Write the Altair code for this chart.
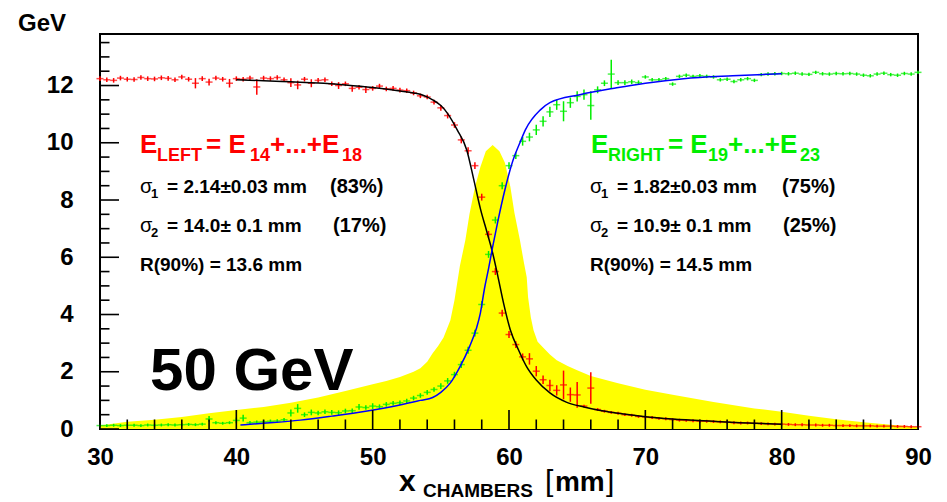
import altair as alt
import pandas as pd

# ---------------- data ----------------
x_pts = [30.0, 30.5, 31.0, 31.5, 32.0, 32.5, 33.0, 33.5, 34.0, 34.5,
         35.0, 35.5, 36.0, 36.5, 37.0, 37.5, 38.0, 38.5, 39.0, 39.5,
         40.0, 40.5, 41.0, 41.5, 42.0, 42.5, 43.0, 43.5, 44.0, 44.5,
         45.0, 45.5, 46.0, 46.5, 47.0, 47.5, 48.0, 48.5, 49.0, 49.5,
         50.0, 50.5, 51.0, 51.5, 52.0, 52.5, 53.0, 53.5, 54.0, 54.5,
         55.0, 55.5, 56.0, 56.5, 57.0, 57.5, 58.0, 58.5, 59.0, 59.5,
         60.0, 60.5, 61.0, 61.5, 62.0, 62.5, 63.0, 63.5, 64.0, 64.5,
         65.0, 65.5, 66.0, 66.5, 67.0, 67.5, 68.0, 68.5, 69.0, 69.5,
         70.0, 70.5, 71.0, 71.5, 72.0, 72.5, 73.0, 73.5, 74.0, 74.5,
         75.0, 75.5, 76.0, 76.5, 77.0, 77.5, 78.0, 78.5, 79.0, 79.5,
         80.0, 80.5, 81.0, 81.5, 82.0, 82.5, 83.0, 83.5, 84.0, 84.5,
         85.0, 85.5, 86.0, 86.5, 87.0, 87.5, 88.0, 88.5, 89.0, 89.5,
         90.0]

e_left = [12.24, 12.20, 12.18, 12.26, 12.22, 12.21, 12.28, 12.24, 12.23, 12.27,
          12.25, 12.20, 12.30, 12.22, 12.08, 12.24, 12.12, 12.26, 12.22, 12.08,
          12.24, 12.22, 12.26, 11.95, 12.26, 12.24, 12.28, 12.20, 12.10, 12.02,
          12.22, 12.08, 12.18, 12.20, 12.06, 12.00, 12.06, 11.90, 11.94, 11.86,
          11.90, 11.98, 11.88, 11.90, 11.84, 11.82, 11.74, 11.64, 11.60, 11.42,
          11.22, 10.95, 10.62, 10.10, 9.72, 9.20, 8.10, 6.80, 5.50, 4.05,
          3.30, 2.95, 2.52, 2.45, 2.02, 1.72, 1.52, 1.35, 1.54, 1.20,
          1.19, 0.80, 1.43, 0.68, 0.62, 0.58, 0.55, 0.50, 0.48, 0.44,
          0.42, 0.40, 0.37, 0.36, 0.33, 0.31, 0.30, 0.29, 0.27, 0.27,
          0.26, 0.25, 0.24, 0.22, 0.21, 0.21, 0.20, 0.19, 0.18, 0.17,
          0.17, 0.16, 0.15, 0.15, 0.14, 0.14, 0.13, 0.13, 0.12, 0.12,
          0.12, 0.11, 0.11, 0.11, 0.10, 0.10, 0.10, 0.09, 0.09, 0.08,
          0.08]

e_left_err = [0.08, 0.08, 0.08, 0.08, 0.08, 0.08, 0.08, 0.08, 0.08, 0.08,
              0.08, 0.08, 0.08, 0.08, 0.18, 0.08, 0.12, 0.08, 0.08, 0.15,
              0.08, 0.08, 0.08, 0.27, 0.08, 0.08, 0.08, 0.08, 0.15, 0.15,
              0.08, 0.14, 0.08, 0.08, 0.08, 0.12, 0.08, 0.12, 0.08, 0.12,
              0.08, 0.08, 0.08, 0.08, 0.08, 0.08, 0.08, 0.08, 0.08, 0.08,
              0.10, 0.10, 0.10, 0.12, 0.12, 0.12, 0.12, 0.12, 0.12, 0.12,
              0.12, 0.12, 0.12, 0.20, 0.18, 0.15, 0.20, 0.18, 0.50, 0.25,
              0.45, 0.05, 0.55, 0.05, 0.05, 0.05, 0.05, 0.05, 0.05, 0.05,
              0.05, 0.05, 0.05, 0.05, 0.05, 0.05, 0.05, 0.05, 0.05, 0.05,
              0.05, 0.05, 0.05, 0.05, 0.05, 0.05, 0.05, 0.05, 0.05, 0.05,
              0.05, 0.05, 0.05, 0.05, 0.05, 0.05, 0.05, 0.05, 0.05, 0.05,
              0.05, 0.05, 0.05, 0.05, 0.05, 0.05, 0.05, 0.05, 0.05, 0.05,
              0.05]

e_right = [0.12, 0.12, 0.13, 0.12, 0.13, 0.13, 0.12, 0.14, 0.13, 0.14,
           0.15, 0.14, 0.15, 0.16, 0.15, 0.17, 0.35, 0.22, 0.20, 0.22,
           0.30, 0.38, 0.22, 0.24, 0.25, 0.27, 0.28, 0.32, 0.56, 0.72,
           0.50, 0.58, 0.56, 0.60, 0.58, 0.57, 0.63, 0.64, 0.77, 0.75,
           0.80, 0.78, 0.86, 0.90, 0.92, 0.98, 1.08, 1.17, 1.28, 1.38,
           1.50, 1.68, 1.90, 2.25, 2.75, 3.35, 4.35, 6.10, 7.30, 8.50,
           9.20, 9.55, 10.05, 10.20, 10.45, 10.75, 11.08, 11.33, 11.10, 11.40,
           11.62, 11.68, 11.30, 11.85, 12.08, 12.40, 12.10, 12.10, 12.13, 12.10,
           12.30, 12.20, 12.20, 12.24, 12.05, 12.32, 12.36, 12.32, 12.34, 12.32,
           12.30, 12.20, 12.22, 12.14, 12.20, 12.24, 12.18, 12.38, 12.40, 12.41,
           12.42, 12.41, 12.43, 12.40, 12.39, 12.46, 12.41, 12.40, 12.42, 12.41,
           12.42, 12.40, 12.36, 12.34, 12.40, 12.43, 12.38, 12.36, 12.42, 12.40,
           12.46]

e_right_err = [0.05, 0.05, 0.05, 0.05, 0.05, 0.05, 0.05, 0.05, 0.05, 0.05,
               0.05, 0.05, 0.05, 0.05, 0.05, 0.05, 0.10, 0.05, 0.05, 0.05,
               0.10, 0.12, 0.06, 0.06, 0.06, 0.06, 0.06, 0.06, 0.12, 0.15,
               0.08, 0.10, 0.08, 0.08, 0.08, 0.08, 0.08, 0.08, 0.10, 0.08,
               0.10, 0.08, 0.08, 0.08, 0.08, 0.08, 0.08, 0.08, 0.08, 0.08,
               0.10, 0.10, 0.10, 0.12, 0.12, 0.12, 0.12, 0.12, 0.12, 0.12,
               0.12, 0.12, 0.15, 0.15, 0.18, 0.18, 0.18, 0.18, 0.35, 0.18,
               0.18, 0.18, 0.50, 0.12, 0.10, 0.50, 0.08, 0.08, 0.08, 0.08,
               0.06, 0.06, 0.06, 0.06, 0.06, 0.06, 0.06, 0.06, 0.06, 0.06,
               0.06, 0.06, 0.06, 0.06, 0.06, 0.06, 0.06, 0.06, 0.06, 0.06,
               0.06, 0.06, 0.06, 0.06, 0.06, 0.06, 0.06, 0.06, 0.06, 0.06,
               0.06, 0.06, 0.06, 0.06, 0.06, 0.06, 0.06, 0.06, 0.06, 0.06,
               0.06]

# fitted curves (fit range 40 - 80 mm)
fit_left_x = [40.0, 42.0, 44.0, 46.0, 48.0, 50.0, 52.0, 53.0, 53.6, 54.4,
              55.0, 55.5, 56.2, 56.9, 57.4, 57.9, 58.4, 58.8, 59.2, 59.6,
              60.1, 60.7, 61.3, 62.0, 63.0, 64.2, 65.5, 66.7, 68.0, 70.0,
              72.0, 75.0, 78.0, 80.0]
fit_left_y = [12.20, 12.17, 12.13, 12.09, 12.02, 11.93, 11.81, 11.74, 11.68, 11.50,
              11.30, 11.02, 10.45, 9.75, 8.75, 7.70, 6.85, 6.15, 5.30, 4.40,
              3.46, 2.76, 2.17, 1.71, 1.26, 0.94, 0.77, 0.65, 0.55, 0.43,
              0.35, 0.27, 0.20, 0.17]

fit_right_x = [40.3, 42.0, 44.7, 47.0, 49.6, 52.0, 53.5, 54.4, 55.0, 55.7,
               56.4, 57.1, 57.6, 57.9, 58.2, 58.5, 58.8, 59.2, 59.7, 60.3,
               60.8, 61.2, 62.3, 63.0, 65.2, 67.9, 70.0, 72.8, 76.4, 80.0]
fit_right_y = [0.14, 0.20, 0.31, 0.45, 0.63, 0.84, 1.00, 1.10, 1.28, 1.61,
               2.17, 2.87, 3.50, 4.05, 4.90, 5.60, 6.36, 7.30, 8.36, 9.40,
               10.00, 10.45, 11.15, 11.40, 11.68, 11.92, 12.08, 12.24, 12.34, 12.41]

# total profile (yellow)
band_x = [30.0, 32.0, 34.0, 36.0, 38.0, 40.0, 42.0, 44.0, 46.0, 48.0,
          50.0, 51.0, 52.0, 53.0, 53.5, 54.0, 54.4, 54.8, 55.2, 55.7,
          56.0, 56.2, 56.4, 56.8, 57.1, 57.5, 57.9, 58.3, 58.8, 59.3,
          59.7, 60.1, 60.4, 60.8, 61.1, 61.3, 61.4, 61.6, 61.8, 62.1,
          62.5, 63.0, 63.5, 64.3, 65.0, 66.0, 68.0, 70.0, 72.0, 75.0,
          78.0, 80.0, 82.0, 84.0, 86.0, 88.0, 90.0]
band_y = [0.12, 0.25, 0.32, 0.42, 0.55, 0.66, 0.77, 0.92, 1.10, 1.33,
          1.56, 1.68, 1.82, 2.00, 2.12, 2.35, 2.65, 2.90, 3.20, 3.80,
          4.50, 5.10, 5.70, 6.60, 7.50, 8.45, 9.15, 9.70, 9.92, 9.70,
          9.30, 8.46, 7.55, 6.60, 5.80, 5.30, 4.60, 3.90, 3.45, 3.05,
          2.85, 2.60, 2.40, 2.20, 2.05, 1.85, 1.60, 1.37, 1.20, 0.94,
          0.72, 0.60, 0.46, 0.34, 0.24, 0.15, 0.07]

x_major = [30, 40, 50, 60, 70, 80, 90]
x_minor = [32, 34, 36, 38, 42, 44, 46, 48, 52, 54, 56, 58, 62, 64, 66, 68,
           72, 74, 76, 78, 82, 84, 86, 88]
y_major = [0, 2, 4, 6, 8, 10, 12]
y_minor = [0.5, 1, 1.5, 2.5, 3, 3.5, 4.5, 5, 5.5, 6.5, 7, 7.5, 8.5, 9, 9.5,
           10.5, 11, 11.5, 12.5, 13, 13.5]

RED = "#ff0000"
GREEN = "#00ee00"
FONT = "Liberation Sans"

# text runs: (text, x [mm], y [GeV], font size, colour)
bold_texts = [
    ("GeV", 23.99, 13.90, 24, "black"),
    ("E", 32.93, 9.64, 26, RED), ("LEFT", 34.18, 9.36, 18, RED),
    ("= E", 37.78, 9.64, 26, RED), ("14", 41.00, 9.36, 18, RED),
    ("+...+E", 42.47, 9.64, 26, RED), ("18", 47.75, 9.36, 18, RED),
    ("E", 66.02, 9.64, 26, GREEN), ("RIGHT", 67.26, 9.36, 18, GREEN),
    ("= E", 71.66, 9.64, 26, GREEN), ("19", 74.60, 9.36, 18, GREEN),
    ("+...+E", 76.06, 9.64, 26, GREEN), ("23", 81.35, 9.36, 18, GREEN),
    ("1", 33.74, 8.07, 13, "black"), ("= 2.14±0.03 mm", 34.92, 8.25, 19, "black"),
    ("(83%)", 46.87, 8.25, 20, "black"),
    ("2", 33.74, 6.71, 13, "black"), ("= 14.0± 0.1 mm", 34.92, 6.88, 19, "black"),
    ("(17%)", 47.09, 6.88, 20, "black"),
    ("R(90%) = 13.6 mm", 32.93, 5.52, 19, "black"),
    ("1", 66.75, 8.07, 13, "black"), ("= 1.82±0.03 mm", 67.92, 8.25, 19, "black"),
    ("(75%)", 80.03, 8.25, 20, "black"),
    ("2", 66.75, 6.71, 13, "black"), ("= 10.9± 0.1 mm", 67.92, 6.88, 19, "black"),
    ("(25%)", 80.10, 6.88, 20, "black"),
    ("R(90%) = 14.5 mm", 65.94, 5.52, 19, "black"),
    ("50 GeV", 33.67, 1.36, 60, "black"),
    ("x", 51.93, -2.15, 30, "black"), ("CHAMBERS", 53.70, -2.36, 19, "black"),
    ("mm", 63.37, -2.15, 28, "black"),
]
plain_texts = [
    ("σ", 32.93, 8.25, 20, "black"), ("σ", 32.93, 6.88, 20, "black"),
    ("σ", 65.94, 8.25, 20, "black"), ("σ", 65.94, 6.88, 20, "black"),
    ("[", 62.64, -2.15, 30, "black"), ("]", 67.12, -2.15, 30, "black"),
]

# ---------------- chart ----------------
W, H = 818, 395
xscale = alt.Scale(domain=[30, 90], nice=False, zero=False)
yscale = alt.Scale(domain=[0, 13.8], nice=False, zero=False)
xaxis = alt.Axis(values=x_major, ticks=False, tickSize=0, domain=False, grid=False,
                 title=None, labelFontSize=24, labelFontWeight="bold", labelFont=FONT,
                 labelColor="black", labelPadding=16, labelFlush=False)
yaxis = alt.Axis(values=y_major, ticks=False, tickSize=0, domain=False, grid=False,
                 title=None, labelFontSize=24, labelFontWeight="bold", labelFont=FONT,
                 labelColor="black", labelPadding=27, labelFlush=False)


def X(f):
    return alt.X(f, type="quantitative", scale=xscale, axis=xaxis)


def Y(f):
    return alt.Y(f, type="quantitative", scale=yscale, axis=yaxis)


pts = pd.DataFrame({"x": x_pts, "l": e_left, "le": e_left_err,
                    "r": e_right, "re": e_right_err})
pts["l_lo"] = pts["l"] - pts["le"]
pts["l_hi"] = pts["l"] + pts["le"]
pts["r_lo"] = pts["r"] - pts["re"]
pts["r_hi"] = pts["r"] + pts["re"]

band = alt.Chart(pd.DataFrame({"x": band_x, "y": band_y})).mark_area(
    color="#ffff00", opacity=1).encode(x=X("x"), y=Y("y"))

base_pts = alt.Chart(pts)
red_v = base_pts.mark_rule(color=RED, strokeWidth=1.5).encode(
    x=X("x"), y=Y("l_lo"), y2="l_hi")
red_h = base_pts.mark_tick(color=RED, orient="horizontal", size=7, thickness=1.5).encode(
    x=X("x"), y=Y("l"))
grn_v = base_pts.mark_rule(color=GREEN, strokeWidth=1.5).encode(
    x=X("x"), y=Y("r_lo"), y2="r_hi")
grn_h = base_pts.mark_tick(color=GREEN, orient="horizontal", size=7, thickness=1.5).encode(
    x=X("x"), y=Y("r"))

fit_l = alt.Chart(pd.DataFrame({"x": fit_left_x, "y": fit_left_y})).mark_line(
    color="black", strokeWidth=1.5, interpolate="monotone").encode(x=X("x"), y=Y("y"))
fit_r = alt.Chart(pd.DataFrame({"x": fit_right_x, "y": fit_right_y})).mark_line(
    color="#0000ff", strokeWidth=1.5, interpolate="monotone").encode(x=X("x"), y=Y("y"))

xt_major = alt.Chart(pd.DataFrame({"t": x_major})).mark_rule(
    color="black", strokeWidth=1.6).encode(x=X("t"), y=alt.value(H), y2=alt.value(H - 19))
xt_minor = alt.Chart(pd.DataFrame({"t": x_minor})).mark_rule(
    color="black", strokeWidth=1.6).encode(x=X("t"), y=alt.value(H), y2=alt.value(H - 9.5))
yt_major = alt.Chart(pd.DataFrame({"t": y_major})).mark_rule(
    color="black", strokeWidth=1.6).encode(y=Y("t"), x=alt.value(0), x2=alt.value(19))
yt_minor = alt.Chart(pd.DataFrame({"t": y_minor})).mark_rule(
    color="black", strokeWidth=1.6).encode(y=Y("t"), x=alt.value(0), x2=alt.value(9.5))


def text_layer(rows, weight):
    df = pd.DataFrame(rows, columns=["text", "x", "y", "size", "color"])
    return alt.Chart(df).mark_text(align="left", baseline="alphabetic", font=FONT,
                                   fontWeight=weight).encode(
        x=X("x"), y=Y("y"), text="text:N",
        size=alt.Size("size:Q", scale=None),
        color=alt.Color("color:N", scale=None))


chart = alt.layer(
    band, red_v, red_h, grn_v, grn_h, fit_l, fit_r,
    xt_major, xt_minor, yt_major, yt_minor,
    text_layer(bold_texts, "bold"), text_layer(plain_texts, "normal"),
).properties(
    width=W, height=H,
    autosize=alt.AutoSizeParams(type="none"),
    padding={"left": 92, "top": 26, "right": 20, "bottom": 76},
).configure_view(stroke="black", strokeWidth=2)

chart.save("out.html", embed_options={"renderer": "svg", "actions": False})
